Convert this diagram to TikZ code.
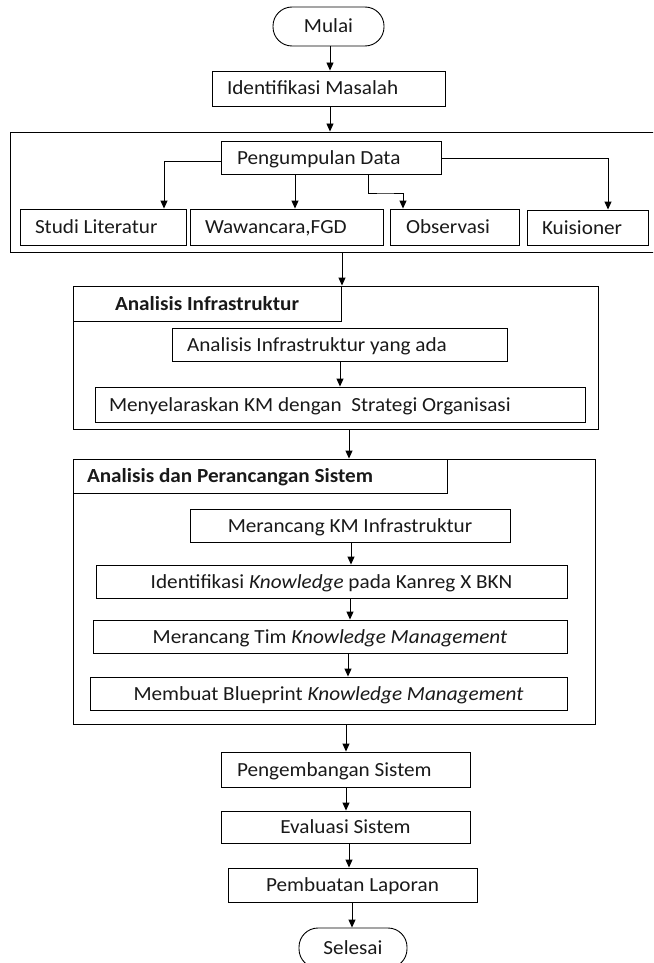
\documentclass[tikz,border=0pt]{standalone}
\usepackage{fontspec}
\setmainfont[FakeStretch=1.06]{Carlito}
\usetikzlibrary{arrows.meta,calc}
\tikzset{
  bx/.style={draw=black, line width=0.9pt, rectangle, inner ysep=0pt, inner xsep=0pt, text height=15pt, text depth=2pt, font=\fontsize{20}{23}\selectfont, text=black!90},
  term/.style={bx, rounded corners=19pt},
  arr/.style={draw=black, line width=0.9pt, -{Triangle[length=8pt,width=7pt]}},
  ttl/.style={font=\fontsize{20}{23}\selectfont\bfseries}
}
\newcommand\mkbox[7]{%
  \pgfmathsetmacro\bxcx{(#2+#4)/2}%
  \pgfmathsetmacro\bxcy{(#3+#5)/2}%
  \pgfmathsetmacro\bxw{#4-#2}%
  \pgfmathsetmacro\bxh{#5-#3}%
  \node[bx, minimum width=\bxw pt, minimum height=\bxh pt, #6] (#1) at (\bxcx,\bxcy) {#7};}
\newcommand\mklbox[8]{%
  \pgfmathsetmacro\bxcx{(#2+#4)/2}%
  \pgfmathsetmacro\bxcy{(#3+#5)/2}%
  \pgfmathsetmacro\bxw{#4-#2}%
  \pgfmathsetmacro\bxh{#5-#3}%
  \pgfmathsetmacro\bxtw{#4-#2-2*#6}%
  \node[bx, minimum width=\bxw pt, minimum height=\bxh pt, inner xsep=#6pt, #7] (#1) at (\bxcx,\bxcy) {\makebox[\bxtw pt][l]{#8}};}
\begin{document}
\begin{tikzpicture}[x=1pt,y=-1pt]
\useasboundingbox (0,0) rectangle (653,963);
\clip (0,0) rectangle (653,963);
% containers
\mkbox{boxa}{10}{132}{660}{252}{}{}
\mkbox{boxb}{73}{286}{598}{429}{}{}
\mkbox{boxc}{73}{459}{595}{724}{}{}
% terminals
\mkbox{mulai}{273}{7}{384}{46}{term}{Mulai}
\mkbox{sel}{299}{928}{407}{968}{term}{Selesai}
% steps
\mklbox{idm}{212}{71}{445}{106}{15}{}{Identifikasi Masalah}
\mklbox{pd}{221}{141}{441}{174}{16}{}{Pengumpulan Data}
\mklbox{studi}{20}{209}{186}{245}{15}{}{Studi Literatur}
\mklbox{waw}{190}{209}{383}{245}{15}{}{Wawancara,FGD}
\mklbox{obs}{390}{209}{519}{245}{16}{}{Observasi}
\mklbox{kuis}{527}{210}{648}{245}{15}{}{Kuisioner}
\mkbox{tb}{73}{286}{341}{321}{ttl}{Analisis Infrastruktur}
\mklbox{aia}{172}{328}{507}{361}{15}{}{Analisis Infrastruktur yang ada}
\mklbox{men}{95}{387}{585}{422}{14}{}{Menyelaraskan KM dengan\ \ Strategi Organisasi}
\mklbox{tc}{73}{459}{447}{493}{14}{ttl}{Analisis dan Perancangan Sistem}
\mkbox{mki}{190}{509}{510}{542}{}{Merancang KM Infrastruktur}
\mkbox{ik}{96}{565}{567}{598}{}{Identifikasi \emph{Knowledge} pada Kanreg X BKN}
\mkbox{mt}{93}{620}{567}{653}{}{Merancang Tim \emph{Knowledge Management}}
\mkbox{mb}{90}{677}{567}{710}{}{Membuat Blueprint \emph{Knowledge Management}}
\mklbox{peng}{221}{752}{470}{787}{16}{}{Pengembangan Sistem}
\mkbox{eval}{221}{811}{470}{843}{}{Evaluasi Sistem}
\mkbox{lap}{228}{868}{477}{902}{}{Pembuatan Laporan}
% connectors
\draw[arr] (mulai.south -| 330,0) -- (idm.north -| 330,0);
\draw[arr] (idm.south -| 330,0) -- (boxa.north -| 330,0);
\draw[arr] (pd.west |- 0,161) -| (studi.north -| 164,0);
\draw[arr] (pd.south -| 295,0) -- (waw.north -| 295,0);
\draw[arr] (pd.south -| 368,0) |- (385,193) -| (obs.north -| 403,0);
\draw[arr] (pd.east |- 0,158) -| (kuis.north -| 608,0);
\draw[arr] (boxa.south -| 342,0) -- (boxb.north -| 342,0);
\draw[arr] (aia.south -| 340,0) -- (men.north -| 340,0);
\draw[arr] (boxb.south -| 349,0) -- (boxc.north -| 349,0);
\draw[arr] (mki.south -| 351,0) -- (ik.north -| 351,0);
\draw[arr] (ik.south -| 350,0) -- (mt.north -| 350,0);
\draw[arr] (mt.south -| 348,0) -- (mb.north -| 348,0);
\draw[arr] (boxc.south -| 346,0) -- (peng.north -| 346,0);
\draw[arr] (peng.south -| 346,0) -- (eval.north -| 346,0);
\draw[arr] (eval.south -| 349,0) -- (lap.north -| 349,0);
\draw[arr] (lap.south -| 352,0) -- (sel.north -| 352,0);
\end{tikzpicture}
\end{document}
